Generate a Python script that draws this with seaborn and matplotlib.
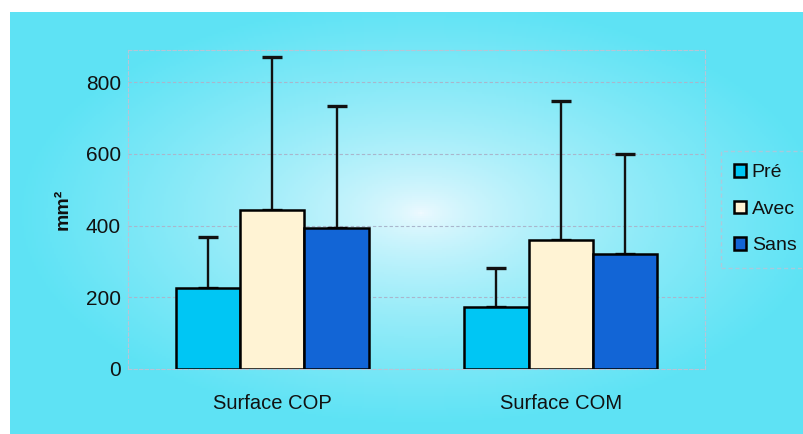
import numpy as np
import pandas as pd
import matplotlib
matplotlib.use("Agg")
import matplotlib.pyplot as plt
import seaborn as sns

# data
categories = ['Surface COP', 'Surface COM']
conditions = ['Pré', 'Avec', 'Sans']
means = {
    'Pré': [226, 173],
    'Avec': [443, 360],
    'Sans': [393, 320],
}
sd_upper = {
    'Pré': [142, 108],
    'Avec': [427, 387],
    'Sans': [340, 279],
}
yticks = [0, 200, 400, 600, 800]

colors = {'Pré': '#00c6f4', 'Avec': '#fff3d4', 'Sans': '#1265d6'}

rows = []
for c in conditions:
    for i, cat in enumerate(categories):
        rows.append({'cat': cat, 'cond': c, 'val': means[c][i], 'sd': sd_upper[c][i]})
df = pd.DataFrame(rows)

sns.set_style('white')
plt.rcParams['font.family'] = ['Liberation Sans', 'DejaVu Sans']

W, H = 804, 434
fig = plt.figure(figsize=(W / 100, H / 100), dpi=100)
fig.patch.set_facecolor('white')

# radial gradient background
bg = fig.add_axes([10 / W, 0, 1 - 10 / W, 1 - 12 / H])
yy, xx = np.mgrid[0:211, 0:397]
cx, cy = 205, 100
r = np.sqrt(((xx - cx) / 200.0) ** 2 + ((yy - cy) / 105.0) ** 2)
t = np.clip(r, 0, 1) ** 0.7
outer = np.array([0.37, 0.89, 0.96])
inner = np.array([0.94, 0.98, 1.0])
img = inner[None, None, :] * (1 - t[..., None]) + outer[None, None, :] * t[..., None]
bg.imshow(img, aspect='auto', extent=[0, 1, 0, 1])
bg.set_xlim(0, 1)
bg.set_ylim(0, 1)
bg.set_axis_off()

ax = fig.add_axes([128 / W, 1 - 369 / H, (705 - 128) / W, (369 - 50) / H])
ax.patch.set_alpha(0)

sns.barplot(data=df, x='cat', y='val', hue='cond', hue_order=conditions,
            palette=colors, order=categories, errorbar=None, width=0.67,
            saturation=1, edgecolor='black', linewidth=1.8, ax=ax, zorder=3)

# upper error bars
for cont, c in zip(ax.containers, conditions):
    xs = [p.get_x() + p.get_width() / 2 for p in cont]
    ys = [p.get_height() for p in cont]
    ax.errorbar(xs, ys, yerr=[np.zeros(len(ys)), sd_upper[c]], fmt='none',
                ecolor='#111111', elinewidth=1.7, capsize=7, capthick=2.4, zorder=2)

ax.set_ylim(0, 890)
ax.set_xlim(-0.5, 1.5)
ax.set_yticks(yticks)
ax.set_yticklabels([str(v) for v in yticks], fontsize=15, color='#111111')
ax.tick_params(axis='y', length=0, pad=5)
ax.tick_params(axis='x', length=0, pad=18, labelsize=14.5, labelcolor='#111111')
ax.set_xlabel('')
ax.set_ylabel('mm²', fontsize=14, fontweight='bold', labelpad=10, color='#111111')
for v in yticks:
    ax.axhline(v, color='#a9b6cc', lw=0.8, ls=(0, (3, 2)), zorder=1)
for s in ax.spines.values():
    s.set_color('#b8c4d6')
    s.set_linewidth(0.8)
    s.set_linestyle((0, (3, 2)))

leg = ax.legend(loc='upper left', bbox_to_anchor=(711 / W, 1 - 141 / H),
                bbox_transform=fig.transFigure, frameon=True, fontsize=14,
                handlelength=0.6, handleheight=0.6, handletextpad=0.3,
                labelspacing=1.0, borderpad=0.7, fancybox=False)
leg.get_frame().set_facecolor('none')
leg.get_frame().set_edgecolor('#b8c4d6')
leg.get_frame().set_linestyle((0, (3, 2)))
leg.set_title(None)
for txt in leg.get_texts():
    txt.set_color('#111111')

fig.savefig('out.png', dpi=100)
